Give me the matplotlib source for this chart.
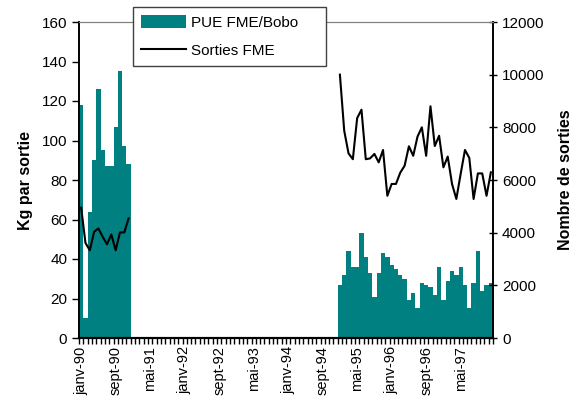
import numpy as np
import matplotlib
matplotlib.use("Agg")
import matplotlib.pyplot as plt
from matplotlib.ticker import FixedLocator, NullFormatter

plt.rcParams['font.family'] = ['Liberation Sans', 'DejaVu Sans']

# monthly catch per trip (kg/sortie), janv-90 .. dec-90 then janv-95 .. dec-97
pue_90 = [118, 10, 64, 90, 126, 95, 87, 87, 107, 135, 97, 88]
pue_95_97 = [27, 32, 44, 36, 36, 53, 41, 33, 21, 33, 43, 41,
             37, 35, 32, 30, 19, 23, 15, 28, 27, 26, 22, 36,
             19, 29, 34, 32, 36, 27, 15, 28, 44, 24, 27, 28]

# number of trips
sorties_90 = [4950, 3610, 3330, 4030, 4160, 3840, 3560, 3930, 3330, 4010, 4010, 4540]
sorties_95_97 = [10000, 7870, 7010, 6790, 8350, 8670, 6790, 6820, 6990, 6670, 7140, 5400,
                 5850, 5850, 6280, 6540, 7280, 6920, 7650, 8000, 6920, 8800, 7290, 7680,
                 6480, 6890, 5850, 5280, 6230, 7140, 6840, 5280, 6250, 6250, 5400, 6290]

mois = ['janv', 'févr', 'mars', 'avr', 'mai', 'juin',
        'juil', 'août', 'sept', 'oct', 'nov', 'déc']
annees = list(range(90, 98))
labels = [f"{m}-{a}" for a in annees for m in mois]

n = len(labels)
i90 = np.arange(0, 12)
i95 = np.arange(60, 96)

teal = '#008080'

fig = plt.figure(figsize=(5.79, 4.01), dpi=100)
ax = fig.add_axes([79 / 579, 63 / 401, 414 / 579, 316 / 401])
ax2 = ax.twinx()

ax.bar(i90 + 0.5, pue_90, width=1.0, color=teal, linewidth=0, label='PUE FME/Bobo')
ax.bar(i95 + 0.5, pue_95_97, width=1.0, color=teal, linewidth=0)
ax2.plot(i90 + 0.5, sorties_90, color='black', lw=1.5, label='Sorties FME')
ax2.plot(i95 + 0.5, sorties_95_97, color='black', lw=1.5)

ax.set_xlim(0, n)
ax.set_ylim(0, 160)
ax2.set_ylim(0, 12000)
ax.set_yticks(range(0, 161, 20))
ax2.set_yticks(range(0, 12001, 2000))

# month boundary ticks, labels every 8 months centred on the category
ax.xaxis.set_major_locator(FixedLocator(np.arange(0, n + 1)))
ax.xaxis.set_major_formatter(NullFormatter())
lab_pos = np.arange(0, n, 8)
ax.xaxis.set_minor_locator(FixedLocator(lab_pos + 0.5))
ax.set_xticklabels([labels[k] for k in lab_pos], minor=True, rotation=90, fontsize=10.5)
ax.tick_params(axis='x', which='major', length=4, width=1, direction='out')
ax.tick_params(axis='x', which='minor', length=0, pad=6)

ax.tick_params(axis='y', length=5, width=1, direction='out', labelsize=11)
ax2.tick_params(axis='y', length=6, width=1, direction='inout', labelsize=11)

ax.set_ylabel('Kg par sortie', fontsize=11.5, fontweight='bold', labelpad=6)
ax2.set_ylabel('Nombre de sorties', fontsize=11.5, fontweight='bold', labelpad=10)

for a in (ax, ax2):
    a.spines['top'].set_color('#808080')
    a.spines['left'].set_linewidth(1.2)
    a.spines['right'].set_linewidth(1.2)
    a.spines['bottom'].set_linewidth(1.5)

h1, l1 = ax.get_legend_handles_labels()
h2, l2 = ax2.get_legend_handles_labels()
leg = ax2.legend(h1 + h2, l1 + l2, loc='upper left',
                 bbox_to_anchor=(133 / 579, 334 / 401, 193 / 579, 60 / 401),
                 bbox_transform=fig.transFigure, mode='expand',
                 fontsize=11, frameon=True, fancybox=False, framealpha=1,
                 handlelength=2.9, handleheight=0.9, handletextpad=0.35,
                 borderpad=0.55, labelspacing=0.85, borderaxespad=0)
leg.get_frame().set_edgecolor('#404040')
leg.get_frame().set_linewidth(1.0)

fig.savefig('out.png', dpi=100)
